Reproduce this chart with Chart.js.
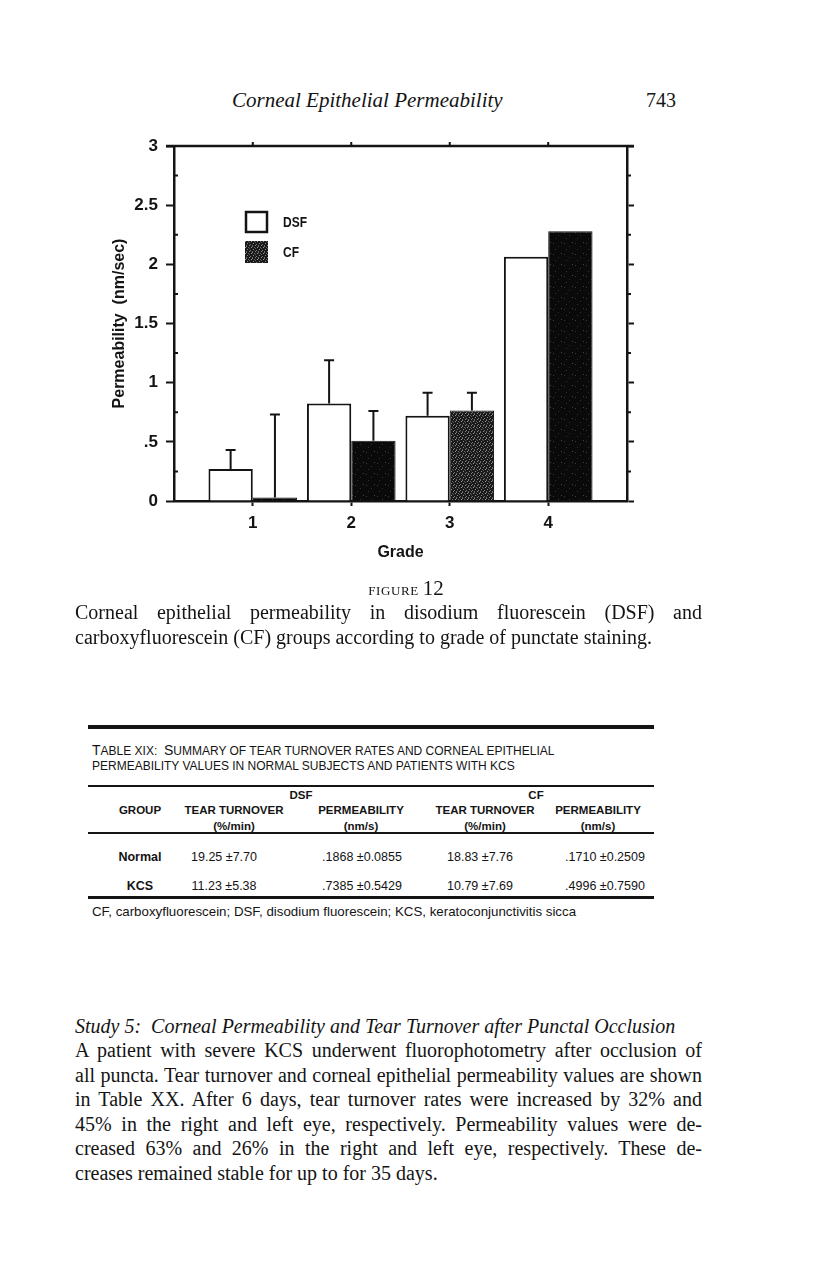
<!DOCTYPE html>
<html>
<head>
<meta charset="utf-8">
<script src="https://cdn.jsdelivr.net/npm/chart.js@4.4.1/dist/chart.umd.min.js"></script>
<style>
  html, body { margin: 0; padding: 0; background: #fff; }
  body { width: 816px; height: 1263px; position: relative; overflow: hidden; color: #141414; }
  .t { position: absolute; white-space: nowrap; }
  .serif { font-family: "Liberation Serif", "DejaVu Serif", serif; }
  .sans { font-family: "Liberation Sans", Arial, sans-serif; }
  .line { position: absolute; left: 75px; width: 627px; font-family: "Liberation Serif", serif; font-size: 20px; line-height: 24px; text-align: justify; text-align-last: justify; }
  .last { text-align-last: left; }
  .rule { position: absolute; background: #141414; }
  .c { transform: translateX(-50%); text-align: center; }
  .hd { font-size: 11.5px; line-height: 14px; font-weight: bold; }
  .val { font-size: 12.5px; line-height: 15px; }
  .big { font-size: 14px; }
  #chartBox { position: absolute; left: 90px; top: 120px; width: 570px; height: 460px; }
</style>
</head>
<body>

<div class="t serif" style="left:232px;top:88px;font-size:21px;line-height:24px;font-style:italic;">Corneal Epithelial Permeability</div>
<div class="t serif" style="left:646px;top:88px;font-size:20px;line-height:24px;">743</div>

<div id="chartBox"><canvas id="chart" width="570" height="460"></canvas></div>

<div class="t serif c" style="left:406px;top:576px;line-height:24px;"><span style="font-variant:small-caps;font-size:19px;letter-spacing:0.6px;">figure</span> <span style="font-size:21px;">12</span></div>
<div class="line" style="top:600px;">Corneal epithelial permeability in disodium fluorescein (DSF) and</div>
<div class="line last" style="top:625px;">carboxyfluorescein (CF) groups according to grade of punctate staining.</div>

<!-- table -->
<div class="rule" style="left:88px;top:725px;width:566px;height:4px;"></div>
<div class="t sans" style="left:92px;top:742px;font-size:12px;line-height:16px;"><span class="big">T</span>ABLE XIX:&nbsp; <span class="big">S</span>UMMARY OF TEAR TURNOVER RATES AND CORNEAL EPITHELIAL</div>
<div class="t sans" style="left:92px;top:758px;font-size:12px;line-height:16px;">PERMEABILITY VALUES IN NORMAL SUBJECTS AND PATIENTS WITH KCS</div>
<div class="rule" style="left:88px;top:785px;width:566px;height:2px;"></div>
<div class="t sans c hd" style="left:301px;top:788px;">DSF</div>
<div class="t sans c hd" style="left:536px;top:788px;">CF</div>
<div class="t sans c hd" style="left:140px;top:803px;">GROUP</div>
<div class="t sans c hd" style="left:234px;top:803px;">TEAR TURNOVER</div>
<div class="t sans c hd" style="left:361px;top:803px;">PERMEABILITY</div>
<div class="t sans c hd" style="left:485px;top:803px;">TEAR TURNOVER</div>
<div class="t sans c hd" style="left:598px;top:803px;">PERMEABILITY</div>
<div class="t sans c hd" style="left:234px;top:819px;">(%/min)</div>
<div class="t sans c hd" style="left:361px;top:819px;">(nm/s)</div>
<div class="t sans c hd" style="left:485px;top:819px;">(%/min)</div>
<div class="t sans c hd" style="left:598px;top:819px;">(nm/s)</div>
<div class="rule" style="left:88px;top:832px;width:566px;height:2px;"></div>
<div class="t sans c val" style="left:140px;top:850px;font-weight:bold;">Normal</div>
<div class="t sans c val" style="left:224px;top:850px;">19.25 ±7.70</div>
<div class="t sans c val" style="left:362px;top:850px;">.1868 ±0.0855</div>
<div class="t sans c val" style="left:480px;top:850px;">18.83 ±7.76</div>
<div class="t sans c val" style="left:605px;top:850px;">.1710 ±0.2509</div>
<div class="t sans c val" style="left:140px;top:879px;font-weight:bold;">KCS</div>
<div class="t sans c val" style="left:224px;top:879px;">11.23 ±5.38</div>
<div class="t sans c val" style="left:362px;top:879px;">.7385 ±0.5429</div>
<div class="t sans c val" style="left:480px;top:879px;">10.79 ±7.69</div>
<div class="t sans c val" style="left:605px;top:879px;">.4996 ±0.7590</div>
<div class="rule" style="left:88px;top:896px;width:566px;height:3px;"></div>
<div class="t sans" style="left:92px;top:904px;font-size:13.3px;line-height:16px;">CF, carboxyfluorescein; DSF, disodium fluorescein; KCS, keratoconjunctivitis sicca</div>

<!-- body text -->
<div class="line last" style="top:1014px;font-style:italic;">Study 5:&nbsp; Corneal Permeability and Tear Turnover after Punctal Occlusion</div>
<div class="line" style="top:1038px;">A patient with severe KCS underwent fluorophotometry after occlusion of</div>
<div class="line" style="top:1062.5px;">all puncta. Tear turnover and corneal epithelial permeability values are shown</div>
<div class="line" style="top:1087px;">in Table XX. After 6 days, tear turnover rates were increased by 32% and</div>
<div class="line" style="top:1111.5px;">45% in the right and left eye, respectively. Permeability values were de-</div>
<div class="line" style="top:1136px;">creased 63% and 26% in the right and left eye, respectively. These de-</div>
<div class="line last" style="top:1160.5px;">creases remained stable for up to for 35 days.</div>

<script>
// Figure 12 data
const grades = [1, 2, 3, 4];
const dsfMean = [0.27, 0.825, 0.72, 2.065];
const dsfErr = [0.16, 0.365, 0.195, null];   // upper error bar length
const cfMean = [0.03, 0.51, 0.765, 2.28];
const cfErr = [0.70, 0.25, 0.15, null];
const yTicks = [0, 0.5, 1, 1.5, 2, 2.5, 3];
const yTickLabels = ['0', '.5', '1', '1.5', '2', '2.5', '3'];
const yMinorTicks = [0.25, 0.75, 1.25, 1.75, 2.25, 2.75];

const INK = '#141414';
const SANS = '"Liberation Sans", Arial, sans-serif';

const canvas = document.getElementById('chart');
const ctx0 = canvas.getContext('2d');

// small speckle tiles for the printed CF fill
function speckle(base, dots, size) {
  const tile = document.createElement('canvas');
  tile.width = size;
  tile.height = size;
  const g = tile.getContext('2d');
  g.fillStyle = base;
  g.fillRect(0, 0, size, size);
  dots.forEach(([x, y, col]) => {
    g.fillStyle = col;
    g.fillRect(x, y, 1, 1);
  });
  return ctx0.createPattern(tile, 'repeat');
}

const darkFill = speckle('#0a0a0a', [[1, 2, '#3a3a3a'], [6, 5, '#2e2e2e'], [9, 1, '#444'], [3, 8, '#303030']], 11);
const grayFill = speckle('#1a1a1a', [[0, 0, '#7a7a7a'], [2, 1, '#666'], [1, 3, '#888'], [3, 2, '#555'], [4, 4, '#777'], [5, 1, '#999'], [0, 5, '#666'], [3, 5, '#888']], 6);
const cfFills = [darkFill, darkFill, grayFill, darkFill];

const errorBars = {
  id: 'errorBars',
  afterDatasetsDraw(chart) {
    const { ctx } = chart;
    const y = chart.scales.y;
    [dsfErr, cfErr].forEach((errs, di) => {
      const meta = chart.getDatasetMeta(di);
      const means = di === 0 ? dsfMean : cfMean;
      meta.data.forEach((bar, i) => {
        if (errs[i] == null) return;
        const top = y.getPixelForValue(means[i] + errs[i]);
        ctx.save();
        ctx.strokeStyle = INK;
        ctx.lineWidth = 2;
        ctx.beginPath();
        ctx.moveTo(bar.x, bar.y);
        ctx.lineTo(bar.x, top);
        ctx.moveTo(bar.x - 5, top);
        ctx.lineTo(bar.x + 5, top);
        ctx.stroke();
        ctx.restore();
      });
    });
  },
};

// top border, minor ticks and the key inside the plot
const frame = {
  id: 'frame',
  afterDraw(chart) {
    const { ctx, chartArea: a } = chart;
    const x = chart.scales.x;
    const y = chart.scales.y;
    ctx.save();
    ctx.strokeStyle = INK;
    ctx.lineWidth = 2.5;
    ctx.beginPath();
    ctx.moveTo(a.left - 8, a.top);
    ctx.lineTo(a.right + 7, a.top);
    ctx.stroke();

    ctx.lineWidth = 2;
    ctx.beginPath();
    grades.forEach((g) => {
      const px = x.getPixelForValue(g);
      ctx.moveTo(px, a.top);
      ctx.lineTo(px, a.top - 4);
    });
    yMinorTicks.forEach((v) => {
      const py = y.getPixelForValue(v);
      ctx.moveTo(a.left, py);
      ctx.lineTo(a.left + 4, py);
      ctx.moveTo(a.right, py);
      ctx.lineTo(a.right + 4, py);
    });
    ctx.stroke();

    // key
    const kx = a.left + 72;
    const ky = a.top + 66;
    ctx.lineWidth = 2.5;
    ctx.fillStyle = '#fff';
    ctx.fillRect(kx, ky, 21, 20);
    ctx.strokeRect(kx, ky, 21, 20);
    ctx.fillStyle = grayFill;
    ctx.fillRect(kx - 1, ky + 29, 23, 22);
    ctx.fillStyle = INK;
    ctx.font = 'bold 15px ' + SANS;
    ctx.textBaseline = 'middle';
    ctx.translate(kx + 37, 0);
    ctx.scale(0.8, 1);
    ctx.fillText('DSF', 0, ky + 11);
    ctx.fillText('CF', 0, ky + 41);
    ctx.restore();
  },
};

const tickFont = { family: SANS, size: 17, weight: 'bold' };
const titleFont = { family: SANS, size: 16, weight: 'bold' };

new Chart(canvas, {
  type: 'bar',
  data: {
    datasets: [
      {
        label: 'DSF',
        data: grades.map((g, i) => ({ x: g, y: dsfMean[i] })),
        backgroundColor: '#fff',
        borderColor: INK,
        borderWidth: 2,
      },
      {
        label: 'CF',
        data: grades.map((g, i) => ({ x: g, y: cfMean[i] })),
        backgroundColor: cfFills,
        borderColor: INK,
        borderWidth: 1,
      },
    ],
  },
  options: {
    responsive: false,
    animation: false,
    devicePixelRatio: 1,
    categoryPercentage: 0.9,
    barPercentage: 1.0,
    layout: { padding: { top: 26 } },
    plugins: { legend: { display: false }, tooltip: { enabled: false } },
    scales: {
      x: {
        type: 'linear',
        offset: false,
        min: 0.2,
        max: 4.8,
        afterBuildTicks: (s) => { s.ticks = grades.map((v) => ({ value: v })); },
        afterFit: (s) => { s.height = 79; },
        ticks: { color: INK, font: tickFont, padding: 7, callback: (v) => String(v) },
        grid: { offset: false, drawOnChartArea: false, tickLength: 5, tickWidth: 2, tickColor: INK },
        border: { display: true, width: 2.5, color: INK },
        title: { display: true, text: 'Grade', color: INK, font: titleFont, padding: { top: 0, bottom: 18 } },
      },
      y: {
        min: 0,
        max: 3,
        afterBuildTicks: (s) => { s.ticks = yTicks.map((v) => ({ value: v })); },
        afterFit: (s) => { s.width = 84; },
        ticks: { color: INK, font: tickFont, padding: 8, callback: (v) => yTickLabels[yTicks.indexOf(v)] },
        grid: { drawOnChartArea: false, tickLength: 8, tickWidth: 2, tickColor: INK },
        border: { display: true, width: 2.5, color: INK },
        title: { display: true, text: 'Permeability  (nm/sec)', color: INK, font: titleFont, padding: { top: 20, bottom: 0 } },
      },
      y2: {
        position: 'right',
        min: 0,
        max: 3,
        afterBuildTicks: (s) => { s.ticks = yTicks.map((v) => ({ value: v })); },
        afterFit: (s) => { s.width = 33; },
        ticks: { display: false },
        grid: { drawOnChartArea: false, tickLength: 7, tickWidth: 2, tickColor: INK },
        border: { display: true, width: 2.5, color: INK },
      },
    },
  },
  plugins: [errorBars, frame],
});
</script>
</body>
</html>
